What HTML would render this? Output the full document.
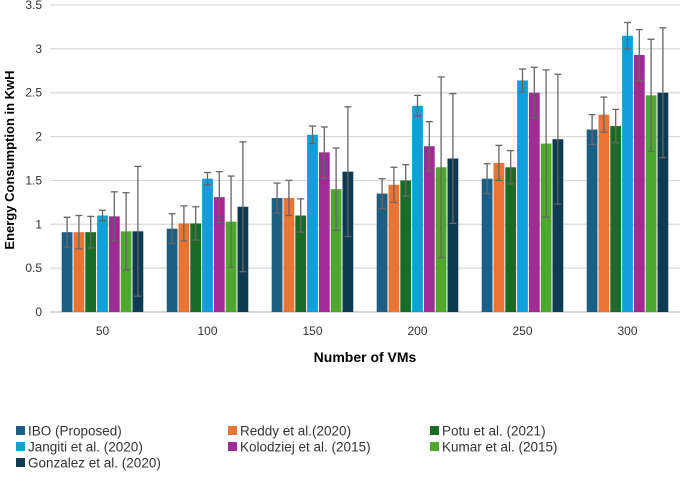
<!DOCTYPE html>
<html><head><meta charset="utf-8"><style>
body{margin:0;background:#fff;font-family:"Liberation Sans",sans-serif}
svg text{font-family:"Liberation Sans",sans-serif}
</style></head><body>
<svg width="685" height="473">
<g id="grid"></g><g id="bars"></g><g id="axes"></g><g id="legend"></g>
<text transform="translate(14,160) rotate(-90)" text-anchor="middle" font-size="13" font-weight="bold" fill="#000">Energy Consumption in KwH</text>
<text x="365" y="362" text-anchor="middle" font-size="14" font-weight="bold" fill="#000">Number of VMs</text>
</svg>
<script>
const categories=["50","100","150","200","250","300"];
const seriesNames=["IBO (Proposed)","Reddy et al.(2020)","Potu et al. (2021)","Jangiti et al. (2020)","Kolodziej et al. (2015)","Kumar et al. (2015)","Gonzalez et al. (2020)"];
const colors=["#1b5f84","#ea7336","#1a6b25","#109fd9","#9f2b94","#4ea72e","#0e3a52"];
const ibo=[0.91,0.95,1.3,1.35,1.52,2.08];
const reddy=[0.91,1.01,1.3,1.45,1.7,2.25];
const potu=[0.91,1.01,1.1,1.5,1.65,2.12];
const jangiti=[1.1,1.52,2.02,2.35,2.64,3.15];
const kolodziej=[1.09,1.31,1.82,1.89,2.5,2.93];
const kumar=[0.92,1.03,1.4,1.65,1.92,2.47];
const gonzalez=[0.92,1.2,1.6,1.75,1.97,2.5];
const errors=[[0.17,0.17,0.17,0.17,0.17,0.17],[0.19,0.2,0.2,0.2,0.2,0.2],[0.18,0.19,0.19,0.18,0.19,0.19],[0.06,0.07,0.1,0.12,0.13,0.15],[0.28,0.29,0.29,0.28,0.29,0.29],[0.44,0.52,0.47,1.03,0.84,0.64],[0.74,0.74,0.74,0.74,0.74,0.74]];
const yTicks=[0,0.5,1,1.5,2,2.5,3,3.5];
const series=[ibo,reddy,potu,jangiti,kolodziej,kumar,gonzalez];
const NS="http://www.w3.org/2000/svg";
const x0=50,x1=680,yBase=312,yTop=5,yMax=3.5;
const y=v=>yBase-(yBase-yTop)*v/yMax;
const gw=(x1-x0)/categories.length;
function mk(t,a,p){const e=document.createElementNS(NS,t);for(const k in a)e.setAttribute(k,a[k]);p.appendChild(e);return e;}
const grid=document.getElementById('grid'),axes=document.getElementById('axes'),bars=document.getElementById('bars'),leg=document.getElementById('legend');
yTicks.forEach(t=>{
 const l=mk('line',{x1:x0,x2:x1,y1:y(t),y2:y(t),stroke:t==0?'#bfbfbf':'#d9d9d9','stroke-width':1.2},grid);
 
 
 const tx=mk('text',{x:42,y:y(t)+4,'text-anchor':'end','font-size':12,fill:'#333'},axes);
 tx.textContent=t;
 
 
});
categories.forEach((c,i)=>{
 const cx=x0+gw*(i+0.5);
 const tx=mk('text',{x:cx,y:335,'text-anchor':'middle','font-size':12,fill:'#333'},axes);
 tx.textContent=c;
 
 
 const step=11.8,bw=10.8,start=cx-step*3.5;
 series.forEach((s,j)=>{
  const bx=start+j*step;
  const r=mk('rect',{x:bx+0.5,y:y(s[i]),width:bw,height:yBase-y(s[i]),fill:colors[j]},bars);
  
  
  const e=errors[j][i],ex=bx+0.5+bw/2;
  const g=mk('g',{stroke:'#666','stroke-width':1.3},bars);
  
  
  mk('line',{x1:ex,x2:ex,y1:y(s[i]+e),y2:y(s[i]-e)},g);
  mk('line',{x1:ex-3.5,x2:ex+3.5,y1:y(s[i]+e),y2:y(s[i]+e)},g);
  mk('line',{x1:ex-3.5,x2:ex+3.5,y1:y(s[i]-e),y2:y(s[i]-e)},g);
 });
});
const lx=[16,228,430],ly=[431,447,463];
seriesNames.forEach((n,j)=>{
 const cx=lx[j%3],cy=ly[Math.floor(j/3)];
 const g=mk('g',{},leg);
 
 
 mk('rect',{x:cx,y:cy-5,width:9,height:9,fill:colors[j]},g);
 const t=mk('text',{x:cx+12,y:cy+4.5,'font-size':13.5,fill:'#333'},g);
 t.textContent=n;
});
</script>
</body></html>
